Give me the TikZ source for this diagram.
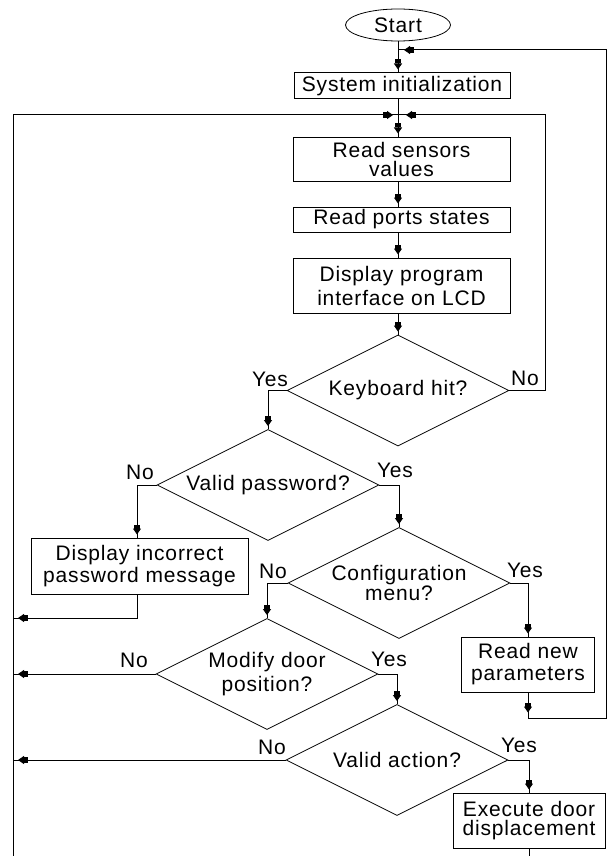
\documentclass[tikz,border=0pt]{standalone}
\usepackage{fontspec}
\setmainfont{Liberation Sans}[LetterSpace=4.0]
\usetikzlibrary{shapes.geometric,arrows.meta}

\begin{document}
\begin{tikzpicture}[x=1pt,y=-1pt,
  every node/.style={font=\fontsize{21}{21}\selectfont},
  lh/.style={font=\fontsize{21}{#1}\selectfont},
  proc/.style={draw, line width=1pt, rectangle, inner sep=0pt, align=center},
  decide/.style={draw, line width=0.8pt, diamond, shape aspect=2, inner sep=0pt,
    align=center, minimum width=222pt, minimum height=111pt},
  term/.style={draw, line width=0.8pt, ellipse, inner sep=0pt,
    minimum width=105pt, minimum height=32pt},
  flow/.style={line width=1pt},
  tipgap/.style={postaction={draw, line width=1pt,
    -{Rectangle[length=4pt,width=6pt,sep=0pt]Triangle[length=6pt,width=8pt]},
    shorten >=#1}},
  tipgap/.default=3pt,
  lbl/.style={inner sep=0pt}
]
\useasboundingbox (0,0) rectangle (608,856);

% ---- main column ----
\node[term] (start) at (398,25) {Start};
\node[proc, minimum width=216pt, minimum height=26pt] (init) at (402,86) {System initialization};
\node[proc, lh=19, minimum width=217pt, minimum height=44pt] (sensors) at (401.5,159) {Read sensors\\values};
\node[proc, minimum width=217pt, minimum height=25pt] (ports) at (401.5,219.5) {Read ports states};
\node[proc, lh=24, minimum width=217pt, minimum height=55pt] (lcd) at (401.5,285.5) {Display program\\interface on LCD};

% ---- decisions ----
\node[decide] (kbd) at (398,390.5) {Keyboard hit?};
\node[decide] (pass) at (268,485) {Valid password?};
\node[decide, lh=20] (config) at (399,583) {Configuration\\menu?};
\node[decide, lh=24] (modify) at (267,674) {Modify door\\position?};
\node[decide] (action) at (397,760) {Valid action?};

% ---- side boxes ----
\node[proc, lh=22, minimum width=217pt, minimum height=56pt] (wrong) at (139.5,566) {Display incorrect\\password message};
\node[proc, lh=22, minimum width=133pt, minimum height=55pt] (params) at (528,664.5) {Read new\\parameters};
\node[proc, lh=19, minimum width=152pt, minimum height=55pt] (move) at (529,820.5) {Execute door\\displacement};

% ---- branch labels ----
\node[lbl] at (270,379) {Yes};
\node[lbl] at (525,378) {No};
\node[lbl] at (140,472) {No};
\node[lbl] at (395,470) {Yes};
\node[lbl] at (273,571) {No};
\node[lbl] at (525,570) {Yes};
\node[lbl] at (134,660) {No};
\node[lbl] at (389,659) {Yes};
\node[lbl] at (272,747) {No};
\node[lbl] at (519,745) {Yes};

% ---- junction points ----
\coordinate (rail) at (13,0);
\coordinate (railbot) at (13,856);
\coordinate (merge) at (398,115);
\coordinate (kbdno) at (545,115);
\coordinate (loopin) at (398,50);
\coordinate (loopcorner) at (606,50);
\coordinate (wrongret) at (13,618);
\path (params.south) ++(0,26) coordinate (loopbot);

% ---- main column connectors ----
\draw[flow, tipgap] (start.south) -- (start.south |- init.north);
\draw[flow, tipgap] (init.south -| start) -- (sensors.north -| start);
\draw[flow, tipgap] (sensors.south -| start) -- (ports.north -| start);
\draw[flow, tipgap] (ports.south -| start) -- (lcd.north -| start);
\draw[flow, tipgap] (lcd.south -| start) -- (kbd.north);

% ---- return paths into the column ----
\draw[flow, tipgap=5pt] (railbot) |- (merge);
\draw[flow, tipgap=8pt] (kbd.east) -| (kbdno) -- (merge);
\draw[flow, tipgap=6pt] (params.south) -- (loopbot);
\draw[flow, tipgap=6pt] (loopbot) -| (loopcorner) -- (loopin);

% ---- decision branches ----
\draw[flow, tipgap] (kbd.west) -| (pass.north);
\draw[flow, tipgap] (pass.east) -| (config.north);
\draw[flow, tipgap] (pass.west) -| (wrong.north -| 137,0);
\draw[flow, tipgap=5pt] (wrong.south -| 137,0) |- (wrongret);
\draw[flow, tipgap] (config.west) -| (modify.north);
\draw[flow, tipgap] (config.east) -| (params.north);
\draw[flow, tipgap=5pt] (modify.west) -- (modify.west -| rail);
\draw[flow, tipgap] (modify.east) -| (action.north);
\draw[flow, tipgap=5pt] (action.west) -- (action.west -| rail);
\draw[flow, tipgap] (action.east) -| (move.north);
\draw[flow] (move.south) -- (move.south |- railbot);
\end{tikzpicture}
\end{document}
